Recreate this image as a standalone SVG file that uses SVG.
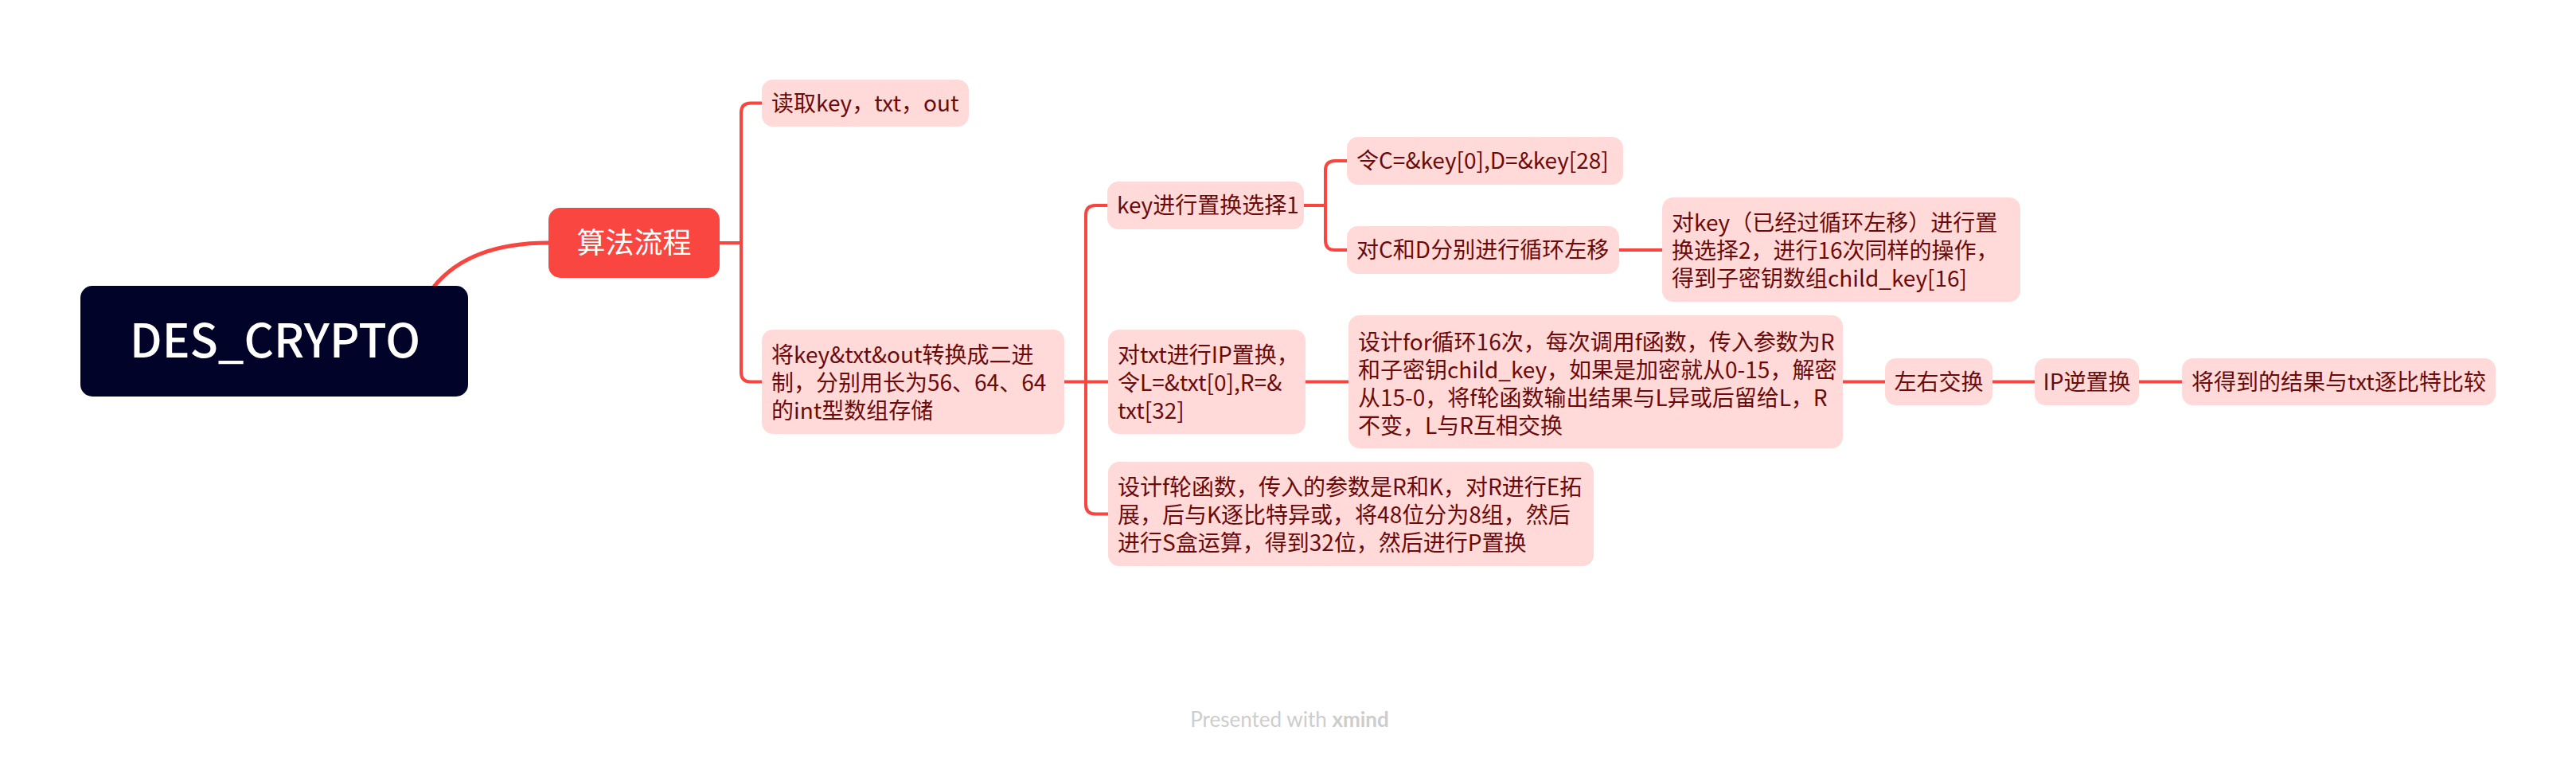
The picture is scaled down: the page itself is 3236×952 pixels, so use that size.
<svg xmlns="http://www.w3.org/2000/svg" width="3236" height="952" viewBox="0 0 3236 952">
<style>
.n{fill:#FFDAD8}
.t{font-family:"Noto Sans CJK SC","Noto Sans",sans-serif;font-size:28px;fill:#6B0A0A}
.c{fill:none;stroke:#F9453F;stroke-width:4;stroke-linecap:butt}
</style>
<rect width="3236" height="952" fill="#ffffff"/>
<g id="connectors">
<path class="c" style="stroke-width:5" d="M545,360 Q590,305 689,305"/>
<path class="c" d="M904,305 H931"/>
<path class="c" d="M957,129.5 H943 Q931,129.5 931,141.5 V467.5 Q931,479.5 943,479.5 H957"/>
<path class="c" d="M1337,479.5 H1392"/>
<path class="c" d="M1392,258 H1376 Q1364,258 1364,270 V633.5 Q1364,645.5 1376,645.5 H1392"/>
<path class="c" d="M1638,258 H1665"/>
<path class="c" d="M1692,202 H1677 Q1665,202 1665,214 V302 Q1665,314 1677,314 H1692"/>
<path class="c" d="M2034,314 H2088"/>
<path class="c" d="M1640,479.5 H1694"/>
<path class="c" d="M2315,479.5 H2368"/>
<path class="c" d="M2503,479.5 H2556"/>
<path class="c" d="M2687,479.5 H2741"/>
</g>
<g id="root">
<rect x="101" y="359" width="487" height="139" rx="15" fill="#020329"/>
<text x="163" y="449" textLength="365" lengthAdjust="spacingAndGlyphs" style="font-family:'Noto Sans CJK SC','Noto Sans',sans-serif;font-size:58px;font-weight:500;fill:#ffffff">DES_CRYPTO</text>
</g>
<g id="main">
<rect x="689" y="261" width="215" height="88" rx="15" fill="#FA4640"/>
<text x="796.5" y="318" text-anchor="middle" style="font-family:'Noto Sans CJK SC','Noto Sans',sans-serif;font-size:36px;fill:#ffffff">算法流程</text>
</g>
<g id="read">
<rect class="n" x="957" y="100" width="260" height="59" rx="14"/>
<text class="t" x="969" y="139.5">读取key，txt，out</text>
</g>
<g id="convert">
<rect class="n" x="957" y="414" width="380" height="131" rx="14"/>
<text class="t"><tspan x="969" y="456">将key&amp;txt&amp;out转换成二进</tspan><tspan x="969" y="491">制，分别用长为56、64、64</tspan><tspan x="969" y="526">的int型数组存储</tspan></text>
</g>
<g id="pc1">
<rect class="n" x="1391" y="228" width="247" height="60" rx="14"/>
<text class="t" x="1403" y="268">key进行置换选择1</text>
</g>
<g id="ip">
<rect class="n" x="1392" y="414" width="248" height="131" rx="14"/>
<text class="t"><tspan x="1404" y="456">对txt进行IP置换，</tspan><tspan x="1404" y="491">令L=&amp;txt[0],R=&amp;</tspan><tspan x="1404" y="526">txt[32]</tspan></text>
</g>
<g id="ffunc">
<rect class="n" x="1392" y="580" width="610" height="131" rx="14"/>
<text class="t"><tspan x="1404" y="622">设计f轮函数，传入的参数是R和K，对R进行E拓</tspan><tspan x="1404" y="657">展，后与K逐比特异或，将48位分为8组，然后</tspan><tspan x="1404" y="692">进行S盒运算，得到32位，然后进行P置换</tspan></text>
</g>
<g id="cd">
<rect class="n" x="1692" y="172" width="347" height="60" rx="14"/>
<text class="t" x="1704" y="212">令C=&amp;key[0],D=&amp;key[28]</text>
</g>
<g id="shift">
<rect class="n" x="1692" y="284" width="342" height="60" rx="14"/>
<text class="t" x="1704" y="324">对C和D分别进行循环左移</text>
</g>
<g id="pc2">
<rect class="n" x="2088" y="248" width="450" height="131" rx="14"/>
<text class="t"><tspan x="2100" y="290">对key（已经过循环左移）进行置</tspan><tspan x="2100" y="325">换选择2，进行16次同样的操作，</tspan><tspan x="2100" y="360">得到子密钥数组child_key[16]</tspan></text>
</g>
<g id="loop">
<rect class="n" x="1694" y="396" width="621" height="167" rx="14"/>
<text class="t"><tspan x="1706" y="439.5">设计for循环16次，每次调用f函数，传入参数为R</tspan><tspan x="1706" y="474.5">和子密钥child_key，如果是加密就从0-15，解密</tspan><tspan x="1706" y="509.5">从15-0，将f轮函数输出结果与L异或后留给L，R</tspan><tspan x="1706" y="544.5">不变，L与R互相交换</tspan></text>
</g>
<g id="swap">
<rect class="n" x="2368" y="450" width="135" height="59" rx="14"/>
<text class="t" x="2435.5" y="489.5" text-anchor="middle">左右交换</text>
</g>
<g id="ipinv">
<rect class="n" x="2556" y="450" width="131" height="59" rx="14"/>
<text class="t" x="2621.5" y="489.5" text-anchor="middle">IP逆置换</text>
</g>
<g id="compare">
<rect class="n" x="2741" y="450" width="394" height="59" rx="14"/>
<text class="t" x="2938" y="489.5" text-anchor="middle">将得到的结果与txt逐比特比较</text>
</g>
<text x="1620" y="913" text-anchor="middle" style="font-family:Lato,'Open Sans',sans-serif;font-size:26px;fill:#cdcdcd">Presented with <tspan font-weight="700">xmind</tspan></text>
</svg>
